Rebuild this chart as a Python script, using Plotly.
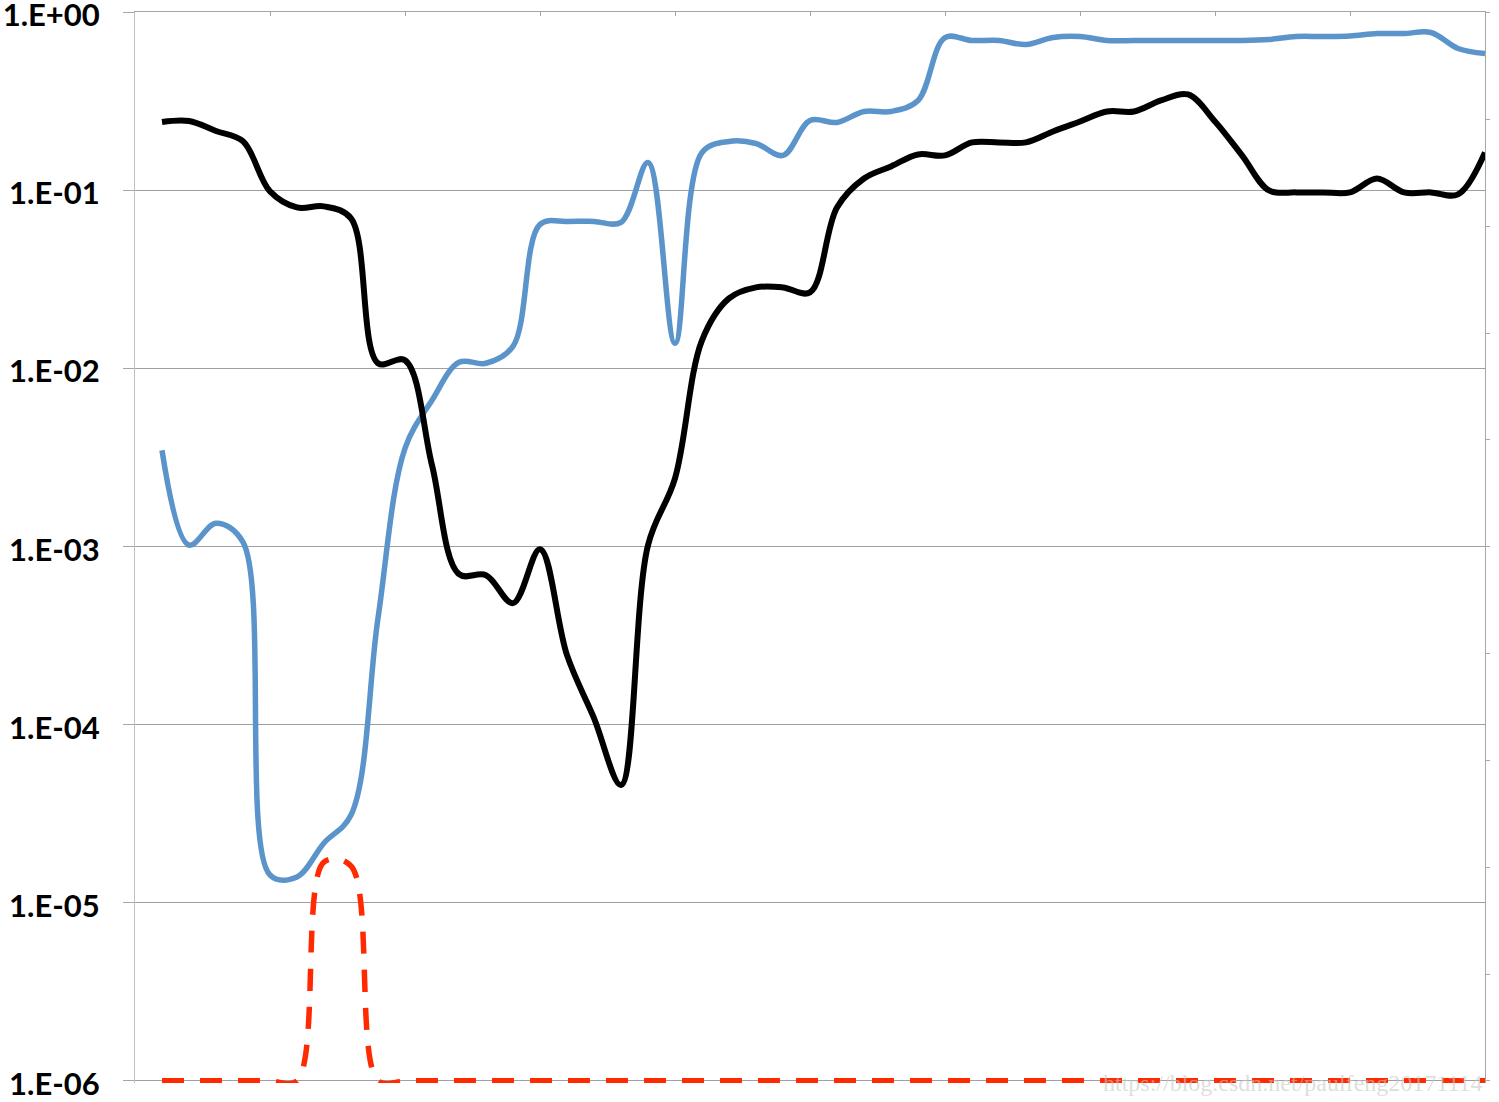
import plotly.graph_objects as go

# Category positions (major top ticks every 1.0, points every 0.2)
x_vals = [0.2, 0.4, 0.6, 0.8, 1.0, 1.2, 1.4, 1.6, 1.8, 2.0,
          2.2, 2.4, 2.6, 2.8, 3.0, 3.2, 3.4, 3.6, 3.8, 4.0,
          4.2, 4.4, 4.6, 4.8, 5.0, 5.2, 5.4, 5.6, 5.8, 6.0,
          6.2, 6.4, 6.6, 6.8, 7.0, 7.2, 7.4, 7.6, 7.8, 8.0,
          8.2, 8.4, 8.6, 8.8, 9.0, 9.2, 9.4, 9.6, 9.8, 10.0]

blue_vals = [3.48e-3, 1.02e-3, 1.355e-3, 1.06e-3, 1.433e-5, 1.397e-5, 2.168e-5, 3.11e-5, 3.97e-4, 3.57e-3,
             6.64e-3, 1.085e-2, 1.072e-2, 1.334e-2, 6.457e-2, 6.714e-2, 6.714e-2, 6.628e-2, 1.439e-1, 1.388e-2,
             1.637e-1, 1.888e-1, 1.839e-1, 1.576e-1, 2.476e-1, 2.413e-1, 2.782e-1, 2.782e-1, 3.207e-1, 7.240e-1,
             6.965e-1, 6.965e-1, 6.614e-1, 7.240e-1, 7.334e-1, 6.965e-1, 6.965e-1, 6.965e-1, 6.965e-1, 6.965e-1,
             6.965e-1, 7.055e-1, 7.334e-1, 7.334e-1, 7.381e-1, 7.623e-1, 7.623e-1, 7.722e-1, 6.282e-1, 5.888e-1]

black_vals = [0.243, 0.246, 0.216, 0.189, 0.099, 0.0804, 0.0815, 0.0698, 0.01072, 0.01114,
              2.867e-3, 7.01e-4, 6.92e-4, 4.82e-4, 9.68e-4, 2.46e-4, 1.09e-4, 4.59e-5, 1.02e-3, 2.42e-3,
              0.01442, 0.02481, 0.02861, 0.0286, 0.02682, 0.0804, 0.117, 0.1367, 0.1596, 0.1576,
              0.1864, 0.1864, 0.1864, 0.2148, 0.2444, 0.2782, 0.2782, 0.3207, 0.3465, 0.2444,
              0.1576, 0.1002, 0.0977, 0.0977, 0.0977, 0.117, 0.0977, 0.0977, 0.0952, 0.1637]

red_vals = [1e-6, 1e-6, 1e-6, 1e-6, 1e-6, 1e-6, 1.696e-5, 1.61e-5, 1e-6, 1e-6,
            1e-6, 1e-6, 1e-6, 1e-6, 1e-6, 1e-6, 1e-6, 1e-6, 1e-6, 1e-6,
            1e-6, 1e-6, 1e-6, 1e-6, 1e-6, 1e-6, 1e-6, 1e-6, 1e-6, 1e-6,
            1e-6, 1e-6, 1e-6, 1e-6, 1e-6, 1e-6, 1e-6, 1e-6, 1e-6, 1e-6,
            1e-6, 1e-6, 1e-6, 1e-6, 1e-6, 1e-6, 1e-6, 1e-6, 1e-6, 1e-6]

y_tick_vals = [1e-6, 1e-5, 1e-4, 1e-3, 1e-2, 1e-1, 1e0]
y_tick_text = ["1.E-06", "1.E-05", "1.E-04", "1.E-03", "1.E-02", "1.E-01", "1.E+00"]

watermark = "https://blog.csdn.net/paulfeng20171114"

fig = go.Figure()
fig.add_trace(go.Scatter(x=x_vals, y=blue_vals, mode="lines",
                         line=dict(color="#5B94CB", width=5.5, shape="spline", smoothing=1.0),
                         showlegend=False, hoverinfo="skip"))
fig.add_trace(go.Scatter(x=x_vals, y=black_vals, mode="lines",
                         line=dict(color="#000000", width=6, shape="spline", smoothing=1.0),
                         showlegend=False, hoverinfo="skip"))
fig.add_trace(go.Scatter(x=x_vals, y=red_vals, mode="lines",
                         line=dict(color="#FF2A00", width=5.5, shape="spline", smoothing=1.0,
                                   dash="22px,16px"),
                         showlegend=False, hoverinfo="skip"))
# empty trace to carry the right-hand secondary axis
fig.add_trace(go.Scatter(x=[], y=[], yaxis="y2", showlegend=False, hoverinfo="skip"))

fig.update_layout(
    width=1499, height=1102,
    margin=dict(l=135, r=14, t=11.5, b=19, autoexpand=False),
    paper_bgcolor="white", plot_bgcolor="white",
    xaxis=dict(range=[0, 10], side="top", tickmode="linear", tick0=0, dtick=1,
               ticks="inside", ticklen=4, tickcolor="#A6A6A6",
               showline=True, linecolor="#A6A6A6", linewidth=1,
               showticklabels=False, showgrid=False, zeroline=False),
    yaxis=dict(type="log", range=[-6.012, 0.003], tickmode="array",
               tickvals=y_tick_vals, ticktext=y_tick_text,
               ticks="outside", ticklen=11, tickcolor="#A6A6A6",
               showline=True, linecolor="#C0C0C0", linewidth=1,
               showgrid=True, gridcolor="#A0A0A0", gridwidth=1,
               tickfont=dict(family="Lato", size=31, color="black", weight="bold"),
               ticklabelstandoff=17, ticklabeloverflow="allow", ticklabelshift=3),
    yaxis2=dict(overlaying="y", side="right", anchor="x", range=[-0.02, 10.005],
                tickmode="linear", tick0=0, dtick=1,
                ticks="outside", ticklen=4, tickcolor="#A6A6A6",
                showline=True, linecolor="#A6A6A6", linewidth=1,
                showticklabels=False, showgrid=False, zeroline=False),
    annotations=[dict(text=watermark, xref="paper", yref="paper", x=1.0, y=0.0,
                      xanchor="right", yanchor="middle", showarrow=False,
                      font=dict(family="Liberation Serif", size=24, color="rgba(200,200,200,0.6)"))],
)

fig.write_html("out.html", config={"displayModeBar": False},
               post_script="document.body.style.margin='0';")
